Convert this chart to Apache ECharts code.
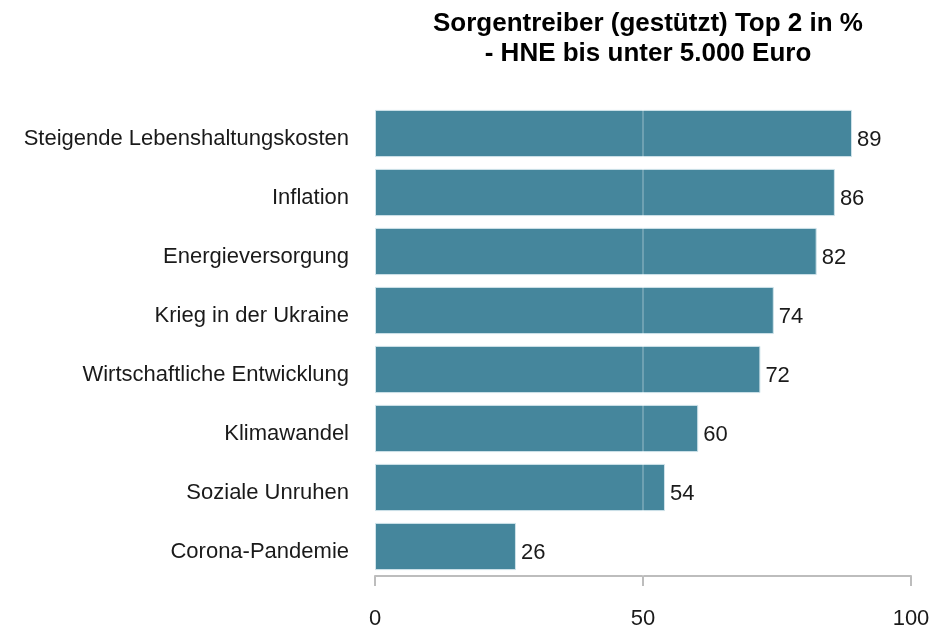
<!DOCTYPE html>
<html>
<head>
<meta charset="utf-8">
<script src="https://cdn.jsdelivr.net/npm/echarts@6/dist/echarts.min.js"></script>
<style>
  html, body { margin: 0; padding: 0; background: #fff; }
  #chart { width: 934px; height: 629px; }
</style>
</head>
<body>
<div id="chart"></div>
<script>
  // Kategorien von oben nach unten
  var categories = [
    'Steigende Lebenshaltungskosten',
    'Inflation',
    'Energieversorgung',
    'Krieg in der Ukraine',
    'Wirtschaftliche Entwicklung',
    'Klimawandel',
    'Soziale Unruhen',
    'Corona-Pandemie'
  ];
  // Werte (aus Balkenlängen geschätzt, Beschriftung gerundet)
  var values = [89, 85.8, 82.4, 74.4, 71.9, 60.3, 54.1, 26.3];
  var xTicks = [0, 50, 100];

  var chart = echarts.init(document.getElementById('chart'));
  var fontFamily = '"Liberation Sans", Arial, sans-serif';

  var option = {
    animation: false,
    title: {
      text: 'Sorgentreiber (gestützt) Top 2 in %\n- HNE bis unter 5.000 Euro',
      left: 643,
      textAlign: 'center',
      top: 4,
      textStyle: {
        fontFamily: fontFamily,
        fontSize: 26,
        fontWeight: 'bold',
        color: '#000',
        lineHeight: 30
      }
    },
    grid: {
      left: 375,
      right: 23,
      top: 104,
      height: 472,
      containLabel: false,
      outerBoundsMode: 'none'
    },
    xAxis: {
      type: 'value',
      min: 0,
      max: 100,
      interval: 50,
      axisLine: { show: true, lineStyle: { color: '#bdbdbd', width: 2 } },
      axisTick: { show: true, length: 10, lineStyle: { color: '#bdbdbd', width: 2 } },
      axisLabel: {
        margin: 32,
        fontFamily: fontFamily,
        fontSize: 22,
        color: '#1a1a1a',
        formatter: function (v) { return xTicks.indexOf(v) >= 0 ? String(v) : ''; }
      },
      splitLine: { show: false }
    },
    yAxis: {
      type: 'category',
      inverse: true,
      data: categories,
      axisLine: { show: false },
      axisTick: { show: false },
      axisLabel: {
        margin: 26,
        fontFamily: fontFamily,
        fontSize: 22,
        color: '#1a1a1a',
        formatter: function (v) { return '{a|' + v + '}'; },
        rich: {
          a: {
            fontFamily: fontFamily,
            fontSize: 22,
            color: '#1a1a1a',
            padding: [10, 0, 0, 0]
          }
        }
      }
    },
    series: [
      {
        type: 'bar',
        data: values,
        barCategoryGap: '20%',
        itemStyle: {
          color: '#45869c',
          borderColor: '#cfe3ea',
          borderWidth: 1
        },
        label: {
          show: true,
          position: 'right',
          distance: 5,
          offset: [0, 6],
          fontFamily: fontFamily,
          fontSize: 22,
          color: '#1a1a1a',
          formatter: function (p) { return Math.round(p.value); }
        },
        markLine: {
          silent: true,
          symbol: 'none',
          label: { show: false },
          lineStyle: { color: 'rgba(255,255,255,0.3)', type: 'solid', width: 1.5 },
          data: [{ xAxis: 50 }]
        }
      }
    ]
  };

  chart.setOption(option);
</script>
</body>
</html>
